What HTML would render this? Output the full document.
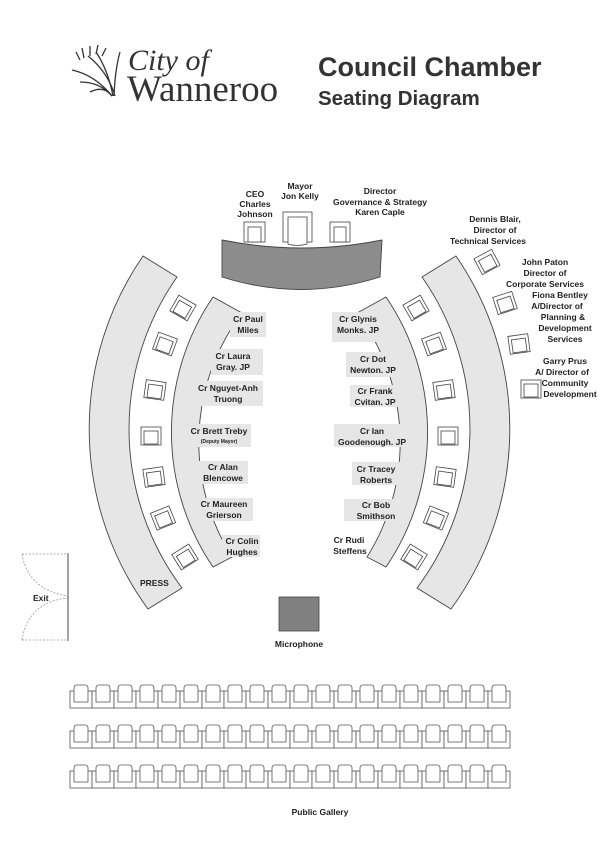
<!DOCTYPE html>
<html><head><meta charset="utf-8"><style>
html,body{margin:0;padding:0;background:#fff;}
svg{display:block;}
text{font-family:"Liberation Sans",sans-serif;fill:#222;}
.b{font-weight:bold;font-size:8.5px;}
</style></head><body>
<svg width="605" height="856" viewBox="0 0 605 856" xmlns="http://www.w3.org/2000/svg">
<defs>
<g id="ch"><rect x="-10" y="-9" width="20" height="18" fill="#fff" stroke="#444" stroke-width="0.8"/><rect x="-7" y="-5" width="14" height="13" fill="#fff" stroke="#444" stroke-width="0.8"/></g>
<g id="gs"><rect x="0" y="6" width="22" height="17" fill="#fff" stroke="#555" stroke-width="0.8"/><path d="M4,17 V3 Q4,0 7,0 H15 Q18,0 18,3 V17 Z" fill="#fff" stroke="#555" stroke-width="0.8"/></g>
<g id="row"><use href="#gs" x="0"/><use href="#gs" x="22"/><use href="#gs" x="44"/><use href="#gs" x="66"/><use href="#gs" x="88"/><use href="#gs" x="110"/><use href="#gs" x="132"/><use href="#gs" x="154"/><use href="#gs" x="176"/><use href="#gs" x="198"/><use href="#gs" x="220"/><use href="#gs" x="242"/><use href="#gs" x="264"/><use href="#gs" x="286"/><use href="#gs" x="308"/><use href="#gs" x="330"/><use href="#gs" x="352"/><use href="#gs" x="374"/><use href="#gs" x="396"/><use href="#gs" x="418"/></g>
<g id="side">
<path d="M143,256 A305,305 0 0 0 148,609 L182,588 A265,265 0 0 1 177,277 Z" fill="#e6e6e6" stroke="#444" stroke-width="0.9"/>
<path d="M213,297 A240,240 0 0 0 213,567 L232,557 A215,215 0 0 1 242,313 Z" fill="#e6e6e6" stroke="#444" stroke-width="0.9"/>
<use href="#ch" transform="translate(183,308) rotate(30)"/>
<use href="#ch" transform="translate(165,344) rotate(20)"/>
<use href="#ch" transform="translate(155,390) rotate(8)"/>
<use href="#ch" transform="translate(151,436) rotate(0)"/>
<use href="#ch" transform="translate(154,477) rotate(-8)"/>
<use href="#ch" transform="translate(163,518) rotate(-22)"/>
<use href="#ch" transform="translate(185,557) rotate(-32)"/>
</g>
</defs>

<!-- logo -->
<g stroke="#333" fill="none" stroke-width="1.3">
<path d="M112,96 Q95,75 72,70"/><path d="M112,96 Q100,82 80,82"/><path d="M112,96 Q104,85 90,92"/>
<path d="M113,96 Q108,70 96,52"/><path d="M114,96 Q115,70 120,52"/><path d="M115,96 Q108,72 88,56"/>
<path d="M80,60 L76,52 M84,58 L82,48 M90,56 L90,46 M96,54 L98,45 M102,56 L106,48"/>
</g>
<text x="128" y="70" style="font-family:'Liberation Serif',serif;font-size:30px;font-style:italic;fill:#333">City of</text>
<text x="127" y="101" style="font-family:'Liberation Serif',serif;font-size:37px;fill:#333">Wanneroo</text>
<text x="318" y="76" style="font-weight:bold;font-size:27px;fill:#333">Council Chamber</text>
<text x="318" y="105" style="font-weight:bold;font-size:20.5px;fill:#333">Seating Diagram</text>

<!-- dais -->
<path d="M222,240 Q302,256 382,240 L380,277 Q301,302 222,277 Z" fill="#8c8c8c" stroke="#444" stroke-width="0.9"/>
<rect x="244" y="222" width="21" height="20" fill="#fff" stroke="#444" stroke-width="0.8"/><rect x="248" y="227" width="13" height="15" fill="#fff" stroke="#444" stroke-width="0.8"/>
<rect x="283" y="212" width="29" height="30" fill="#fff" stroke="#444" stroke-width="0.8"/><path d="M288,244 V217 H307 V244 Q297,247 288,244Z" fill="#fff" stroke="#444" stroke-width="0.8"/>
<rect x="330" y="222" width="20" height="20" fill="#fff" stroke="#444" stroke-width="0.8"/><rect x="334" y="227" width="12" height="15" fill="#fff" stroke="#444" stroke-width="0.8"/>
<g class="b" text-anchor="middle">
<text x="255" y="197" class="b">CEO</text><text x="255" y="207" class="b">Charles</text><text x="255" y="217" class="b">Johnson</text>
<text x="300" y="189" class="b">Mayor</text><text x="300" y="199" class="b">Jon Kelly</text>
<text x="380" y="194" class="b">Director</text><text x="380" y="205" class="b">Governance &amp; Strategy</text><text x="380" y="215" class="b">Karen Caple</text>
</g>

<use href="#side"/>
<use href="#side" transform="translate(599,0) scale(-1,1)"/>

<!-- staff chairs right -->
<use href="#ch" transform="translate(487,262) rotate(-28)"/>
<use href="#ch" transform="translate(505,303) rotate(-18)"/>
<use href="#ch" transform="translate(519,344) rotate(-8)"/>
<use href="#ch" transform="translate(531,389) rotate(0)"/>

<g text-anchor="middle">
<text x="495" y="222" class="b">Dennis Blair,</text><text x="495" y="233" class="b">Director of</text><text x="488" y="244" class="b">Technical Services</text>
<text x="545" y="265" class="b">John Paton</text><text x="545" y="276" class="b">Director of</text><text x="545" y="287" class="b">Corporate Services</text>
<text x="560" y="298" class="b">Fiona Bentley</text><text x="557" y="309" class="b">A/Director of</text><text x="563" y="320" class="b">Planning &amp;</text><text x="565" y="331" class="b">Development</text><text x="565" y="342" class="b">Services</text>
<text x="565" y="364" class="b">Garry Prus</text><text x="562" y="375" class="b">A/ Director of</text><text x="565" y="386" class="b">Community</text><text x="570" y="397" class="b">Development</text>
</g>

<!-- councillor labels -->
<g fill="#e6e6e6">
<rect x="230" y="312" width="36" height="25"/><rect x="211" y="349" width="52" height="26"/><rect x="192" y="381" width="71" height="25"/>
<rect x="187" y="424" width="64" height="23"/><rect x="197" y="461" width="51" height="23"/><rect x="195" y="498" width="58" height="23"/><rect x="222" y="535" width="38" height="22"/>
<rect x="332" y="312" width="51" height="30"/><rect x="346" y="352" width="54" height="25"/><rect x="350" y="385" width="50" height="22"/>
<rect x="334" y="424" width="76" height="23"/><rect x="352" y="462" width="48" height="23"/><rect x="344" y="499" width="54" height="22"/>
</g>
<g text-anchor="middle">
<text x="248" y="322" class="b">Cr Paul</text><text x="248" y="333" class="b">Miles</text>
<text x="233" y="359" class="b">Cr Laura</text><text x="233" y="370" class="b">Gray. JP</text>
<text x="228" y="391" class="b">Cr Nguyet-Anh</text><text x="228" y="402" class="b">Truong</text>
<text x="219" y="434" class="b">Cr Brett Treby</text><text x="219" y="443" style="font-weight:bold;font-size:5px">(Deputy Mayor)</text>
<text x="223" y="470" class="b">Cr Alan</text><text x="223" y="481" class="b">Blencowe</text>
<text x="224" y="507" class="b">Cr Maureen</text><text x="224" y="518" class="b">Grierson</text>
<text x="242" y="544" class="b">Cr Colin</text><text x="242" y="555" class="b">Hughes</text>
<text x="358" y="322" class="b">Cr Glynis</text><text x="358" y="333" class="b">Monks. JP</text>
<text x="373" y="362" class="b">Cr Dot</text><text x="373" y="373" class="b">Newton. JP</text>
<text x="375" y="394" class="b">Cr Frank</text><text x="375" y="405" class="b">Cvitan. JP</text>
<text x="372" y="434" class="b">Cr Ian</text><text x="372" y="445" class="b">Goodenough. JP</text>
<text x="376" y="472" class="b">Cr Tracey</text><text x="376" y="483" class="b">Roberts</text>
<text x="376" y="508" class="b">Cr Bob</text><text x="376" y="519" class="b">Smithson</text>
<text x="349" y="543" class="b">Cr Rudi</text><text x="350" y="554" class="b">Steffens</text>
</g>
<text x="140" y="586" class="b">PRESS</text>

<!-- exit -->
<g fill="none" stroke="#999" stroke-width="0.8" stroke-dasharray="2,1.5">
<path d="M22,554 H68"/><path d="M22,640 H68"/>
<path d="M22,554 Q28,590 68,596"/><path d="M22,640 Q28,602 68,598"/>
</g>
<line x1="68" y1="553" x2="68" y2="641" stroke="#666" stroke-width="1.2"/>
<text x="33" y="601" class="b">Exit</text>

<!-- microphone -->
<rect x="279" y="597" width="40" height="34" fill="#808080" stroke="#444" stroke-width="0.8"/>
<text x="299" y="647" class="b" text-anchor="middle">Microphone</text>

<!-- gallery -->
<use href="#row" x="70" y="685"/>
<use href="#row" x="70" y="725"/>
<use href="#row" x="70" y="765"/>
<text x="320" y="815" class="b" text-anchor="middle">Public Gallery</text>
</svg>
</body></html>
